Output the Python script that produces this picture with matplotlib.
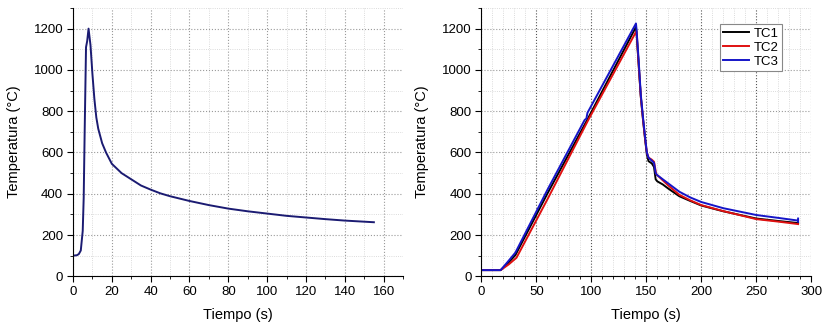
import numpy as np
import matplotlib
matplotlib.use("Agg")
import matplotlib.pyplot as plt
from matplotlib.ticker import MultipleLocator

plt.rcParams['font.family'] = ['Liberation Sans', 'DejaVu Sans']

# left panel: single thermocouple
t_left = [0, 2, 3, 4, 5, 5.5, 6, 6.7, 7.3, 8, 9, 10, 11, 12, 13, 15, 17, 20, 25, 30, 35, 40,
          45, 50, 60, 70, 80, 90, 100, 110, 120, 130, 140, 155]
T_left = [100, 102, 108, 125, 220, 380, 700, 1110, 1140, 1200, 1120, 980, 860, 770, 715, 645, 600,
          545, 500, 470, 440, 420, 402, 388, 365, 345, 328, 315, 304, 293, 285, 277, 270, 262]

# right panel: three thermocouples
t_tc1 = [0, 17.6, 24, 31, 60, 96, 140.6, 141.2, 143, 145, 147, 149, 150.5, 152, 155, 157, 158.5,
         160, 165, 170, 180, 190, 200, 220, 250, 270, 288]
T_tc1 = [30, 30, 62, 103, 400, 755, 1208, 1170, 1030, 870, 760, 660, 590, 558, 547, 530, 470,
         460, 445, 425, 388, 365, 343, 315, 280, 268, 258]

t_tc2 = [0, 17.6, 25, 32, 60, 97, 141, 141.5, 143, 145, 147, 149, 150.5, 152, 155, 157, 159,
         160, 165, 170, 180, 190, 200, 220, 250, 270, 288]
T_tc2 = [30, 30, 58, 90, 372, 755, 1188, 1160, 1030, 870, 760, 660, 600, 575, 565, 555, 495,
         490, 465, 440, 395, 368, 345, 316, 277, 265, 253]

t_tc3 = [0, 17.6, 24, 31, 60, 94, 95.5, 96.5, 140.6, 141.2, 143, 145, 147, 149, 150.5, 152, 155,
         157, 158.5, 160, 165, 170, 180, 190, 200, 220, 250, 270, 288, 288, 288]
T_tc3 = [30, 30, 70, 115, 418, 758, 764, 792, 1225, 1190, 1050, 880, 770, 670, 600, 575, 560,
         550, 500, 490, 470, 450, 410, 382, 360, 330, 297, 283, 270, 265, 280]

navy = '#1b1b72'

fig = plt.figure(figsize=(8.26, 3.28), dpi=100)
ax1 = fig.add_axes([0.0884, 0.1576, 0.3995, 0.818])
ax2 = fig.add_axes([0.5827, 0.1576, 0.3995, 0.818])

ax1.plot(t_left, T_left, color=navy, lw=1.4)
ax2.plot(t_tc1, T_tc1, color='black', lw=1.4, label='TC1')
ax2.plot(t_tc2, T_tc2, color='#e01010', lw=1.4, label='TC2')
ax2.plot(t_tc3, T_tc3, color='#1515c8', lw=1.4, label='TC3')

for ax, xmax, xmaj, xmin in [(ax1, 170, 20, 10), (ax2, 300, 50, 10)]:
    ax.set_xlim(0, xmax)
    ax.set_ylim(0, 1300)
    ax.xaxis.set_major_locator(MultipleLocator(xmaj))
    ax.xaxis.set_minor_locator(MultipleLocator(xmin))
    ax.yaxis.set_major_locator(MultipleLocator(200))
    ax.yaxis.set_minor_locator(MultipleLocator(100))
    ax.spines['top'].set_visible(False)
    ax.spines['right'].set_visible(False)
    ax.tick_params(which='major', direction='out', length=4, width=0.8, labelsize=9.5, pad=3)
    ax.tick_params(which='minor', direction='out', length=2, width=0.6)
    ax.grid(which='major', axis='y', color='#9a9a9a', ls=':', lw=0.8)
    ax.grid(which='minor', color='#cfcfcf', ls=':', lw=0.6)
    ax.set_xlabel('Tiempo (s)', fontsize=10.5, labelpad=7)
    ax.set_ylabel('Temperatura (°C)', fontsize=10.5, labelpad=9)
    ax.set_axisbelow(True)

ax1.grid(which='major', axis='x', color='#9a9a9a', ls=':', lw=0.8)
ax2.grid(which='major', axis='x', color='#555555', ls=':', lw=0.8)

leg = ax2.legend(loc='upper right', bbox_to_anchor=(0.91, 0.94), fontsize=9.5, frameon=True,
                 fancybox=False, edgecolor='#888888', framealpha=1, handlelength=2.0,
                 labelspacing=0.15, borderpad=0.25, handletextpad=0.3, borderaxespad=0)
leg.get_frame().set_linewidth(0.8)

fig.savefig('out.png', dpi=100)
